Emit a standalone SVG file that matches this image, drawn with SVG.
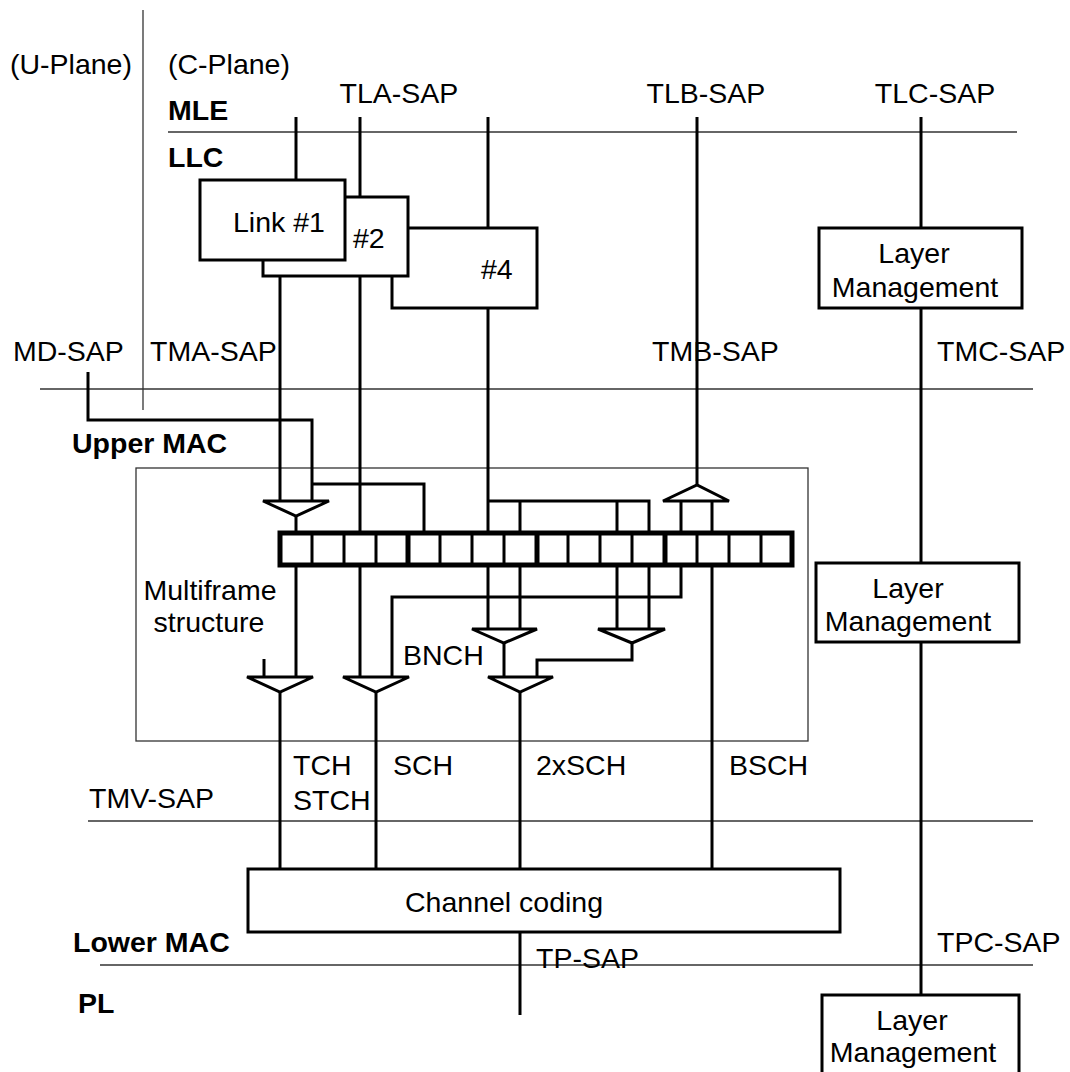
<svg xmlns="http://www.w3.org/2000/svg" width="1070" height="1072" viewBox="0 0 1070 1072">
<style>
text{font-family:"Liberation Sans",Arial,sans-serif;font-size:28.5px;fill:#000}
.b{font-weight:bold}
.m{text-anchor:middle}
.thin{stroke:#333;stroke-width:1.3;fill:none}
.w{stroke:#000;stroke-width:3;fill:none;stroke-linejoin:miter}
.box{stroke:#000;stroke-width:3;fill:#fff}
.tri{stroke:#000;stroke-width:3;fill:#fff;stroke-linejoin:miter}
.cell{stroke:#000;stroke-width:3}
.cellb{stroke:#000;stroke-width:5}
</style>
<rect width="1070" height="1072" fill="#fff"/>
<g id="layers">
<line class="thin" x1="168" y1="132" x2="1017" y2="132"/>
<line class="thin" x1="143" y1="10" x2="143" y2="410"/>
<line class="thin" x1="40" y1="389" x2="1033" y2="389"/>
<line class="thin" x1="88" y1="821" x2="1033" y2="821"/>
<line class="thin" x1="100" y1="965" x2="1033" y2="965"/>
<rect class="thin" x="136" y="468" width="672" height="273"/>
</g>
<g id="labels">
<text x="10" y="74">(U-Plane)</text>
<text x="168" y="74">(C-Plane)</text>
<text class="b" x="168" y="120">MLE</text>
<text class="b" x="168" y="167">LLC</text>
<text class="m" x="399" y="103">TLA-SAP</text>
<text class="m" x="706" y="103">TLB-SAP</text>
<text class="m" x="935" y="103">TLC-SAP</text>
<text x="13" y="361">MD-SAP</text>
<text x="150" y="361">TMA-SAP</text>
<text x="652" y="361">TMB-SAP</text>
<text x="937" y="361">TMC-SAP</text>
<text class="b" x="72" y="453">Upper MAC</text>
<text class="m" x="210" y="600">Multiframe</text>
<text class="m" x="209" y="632">structure</text>
<text x="403" y="665">BNCH</text>
<text x="293" y="775">TCH</text>
<text x="293" y="810">STCH</text>
<text x="393" y="775">SCH</text>
<text x="536" y="775">2xSCH</text>
<text x="729" y="775">BSCH</text>
<text x="89" y="808">TMV-SAP</text>
<text class="b" x="73" y="952">Lower MAC</text>
<text x="536" y="968">TP-SAP</text>
<text x="937" y="952">TPC-SAP</text>
<text class="b" x="78" y="1013">PL</text>
</g>
<g id="connectors">
<path class="w" d="M296 117V180"/>
<path class="w" d="M360 117V197"/>
<path class="w" d="M488 117V228"/>
<path class="w" d="M697 117V485"/>
<path class="w" d="M921 117V228M921 308V563M921 642V995"/>
<path class="w" d="M280 260V501"/>
<path class="w" d="M88 372V420H312V501"/>
<path class="w" d="M312 484H424V533"/>
<path class="w" d="M296 516V533"/>
<path class="w" d="M360 276V677"/>
<path class="w" d="M488 308V533M488 501H649V533M520 501V533M617 501V533"/>
<path class="w" d="M681 501V533M712 501V533"/>
<path class="w" d="M296 566V677"/>
<path class="w" d="M681 566V597H392V677"/>
<path class="w" d="M488 566V629M520 566V629M617 566V629M649 566V629"/>
<path class="w" d="M712 566V869"/>
<path class="w" d="M504 643V677"/>
<path class="w" d="M632 643V660H537V677"/>
<path class="w" d="M264 659V677"/>
<path class="w" d="M280 692V869"/>
<path class="w" d="M376 692V869"/>
<path class="w" d="M520 692V1015"/>
</g>
<g id="link4"><rect class="box" x="392" y="228" width="145" height="80"/><text x="481" y="279">#4</text></g>
<g id="link2"><rect class="box" x="263" y="197" width="145" height="79"/><text x="353" y="248">#2</text></g>
<g id="link1"><rect class="box" x="200" y="180" width="145" height="80"/><text x="233" y="232">Link #1</text></g>
<g id="lm1"><rect class="box" x="819" y="228" width="203" height="80"/><text class="m" x="914" y="263">Layer</text><text class="m" x="915" y="297">Management</text></g>
<g id="lm2"><rect class="box" x="816" y="563" width="203" height="79"/><text class="m" x="908" y="598">Layer</text><text class="m" x="908" y="631">Management</text></g>
<g id="lm3"><rect class="box" x="822" y="995" width="197" height="90"/><text class="m" x="912" y="1030">Layer</text><text class="m" x="913" y="1062">Management</text></g>
<g id="channel-coding"><rect class="box" x="248" y="869" width="592" height="63"/><text x="405" y="912">Channel coding</text></g>
<g id="multiframe">
<rect x="280" y="533" width="512" height="32" fill="#fff" stroke="#000" stroke-width="5"/>
<path class="cell" d="M312 533V565M344 533V565M376 533V565M440 533V565M472 533V565M504 533V565M568 533V565M600 533V565M632 533V565M697 533V565M729 533V565M761 533V565"/>
<path class="cellb" d="M408 533V565M537 533V565M665 533V565"/>
</g>
<g id="mux-tma"><polygon class="tri" points="263,501 329,501 296,516"/></g>
<g id="mux-tmb"><polygon class="tri" points="663,501 729,501 697,485"/></g>
<g id="mux-a"><polygon class="tri" points="472,629 537,629 504,643"/></g>
<g id="mux-b"><polygon class="tri" points="598,629 665,629 632,643"/></g>
<g id="mux-c"><polygon class="tri" points="488,677 553,677 520,692"/></g>
<g id="mux-d"><polygon class="tri" points="343,677 409,677 376,692"/></g>
<g id="mux-e"><polygon class="tri" points="247,677 313,677 280,692"/></g>
</svg>
